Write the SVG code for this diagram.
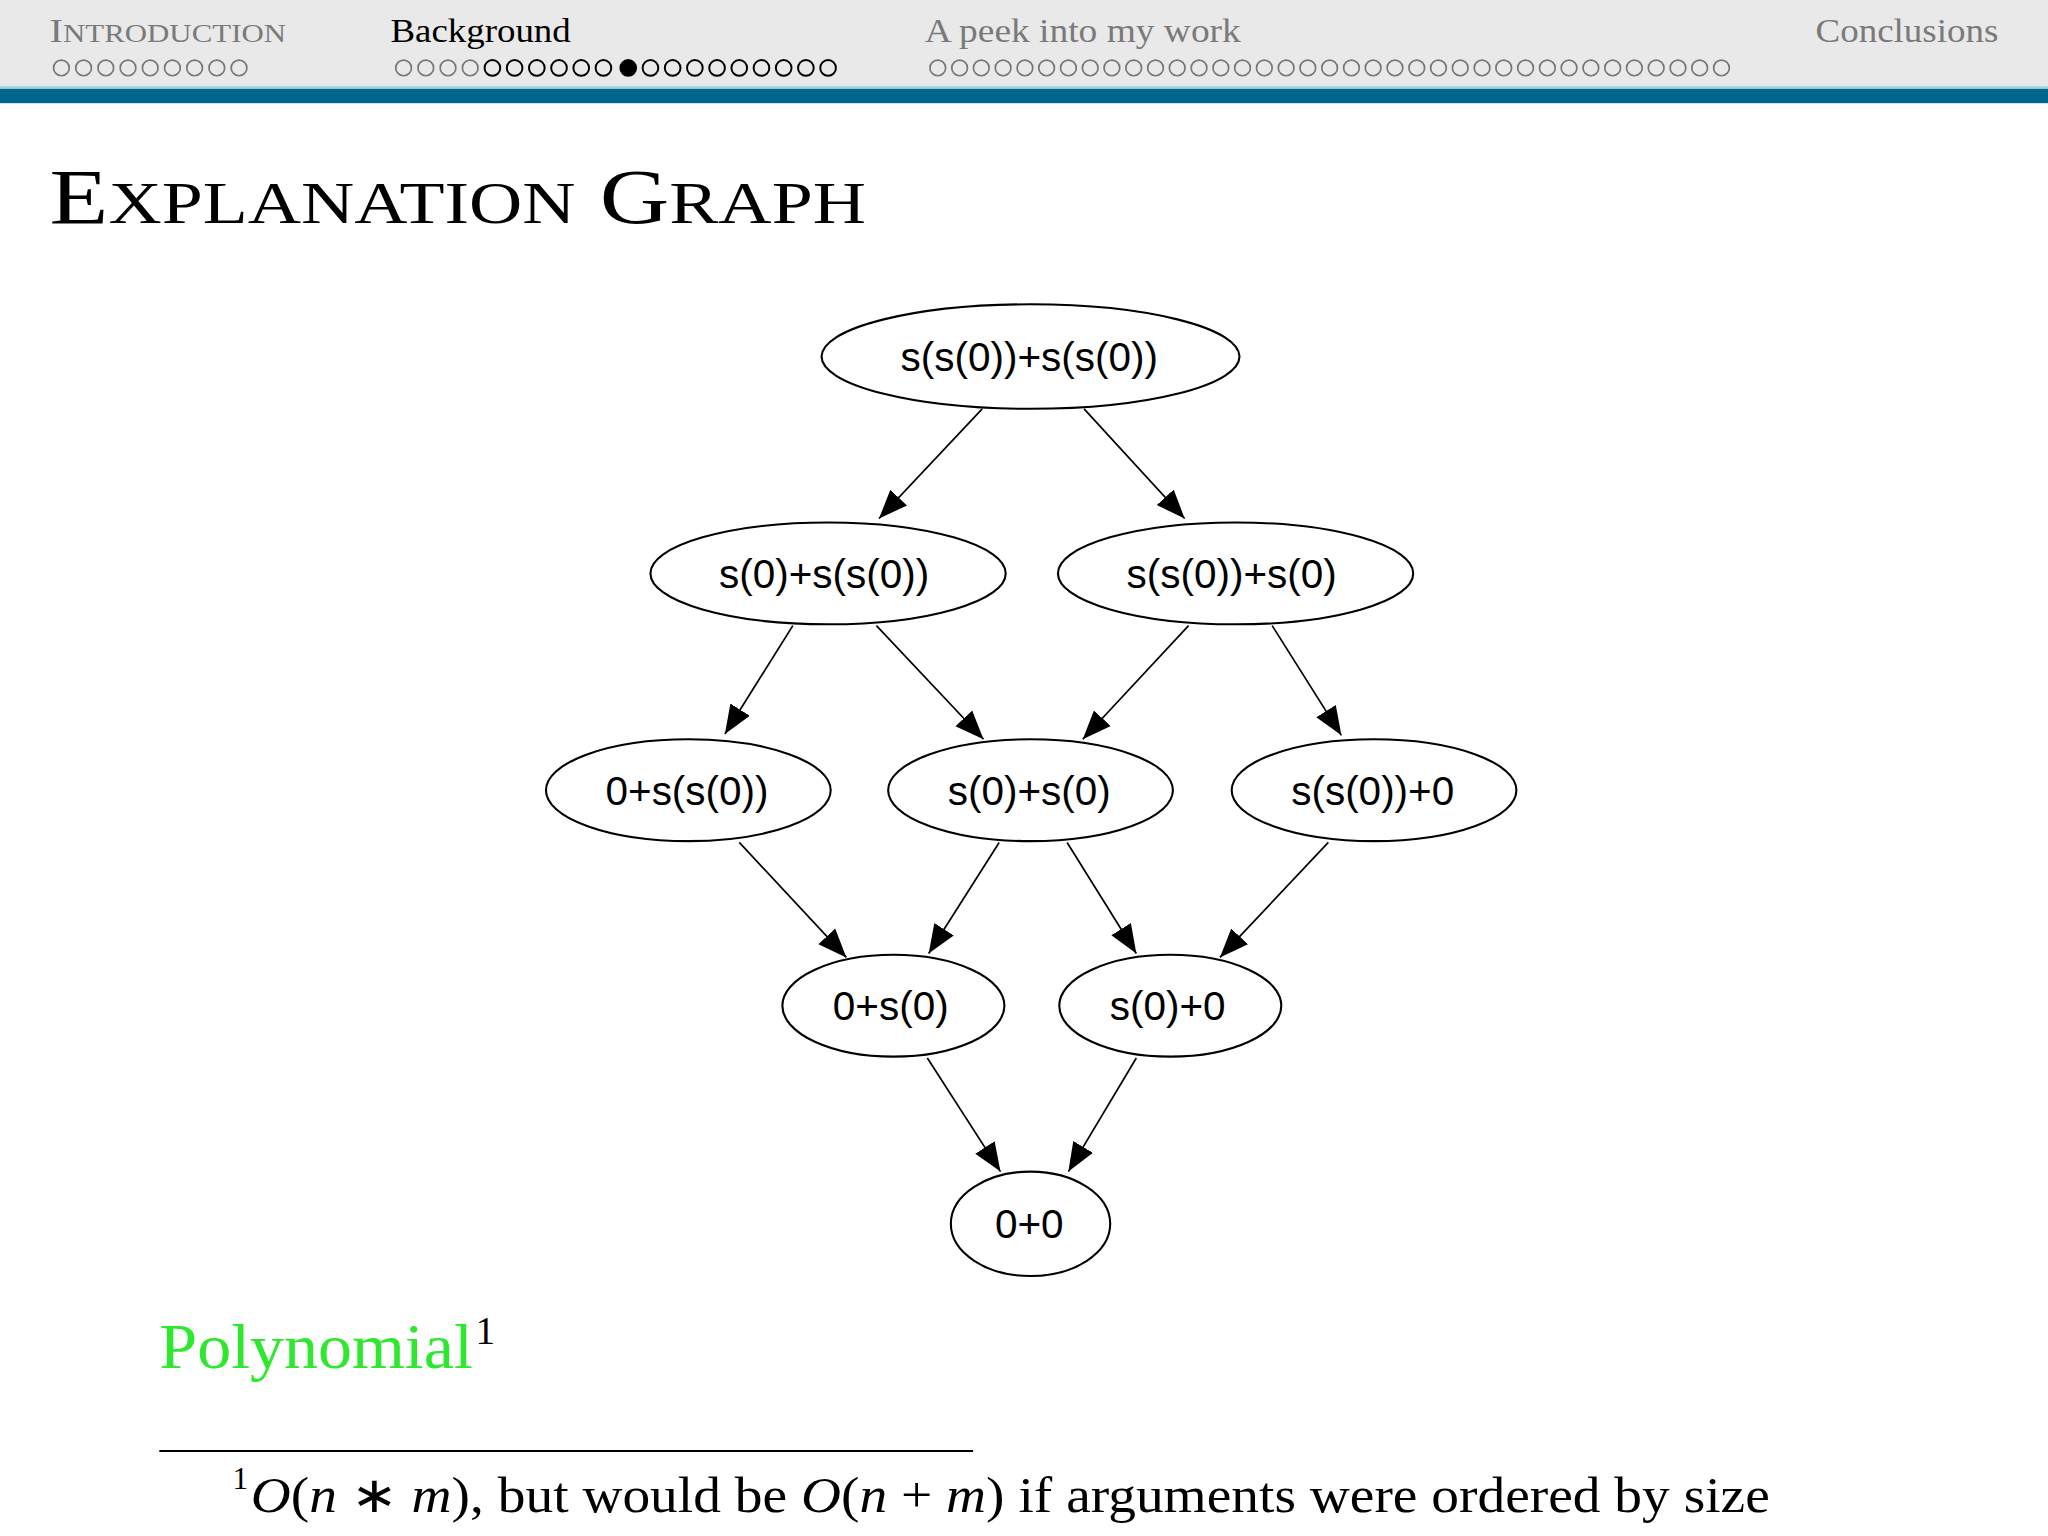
<svg xmlns="http://www.w3.org/2000/svg" width="2048" height="1536" viewBox="0 0 2048 1536">
<defs>
<marker id="ah2" viewBox="0 0 10 10" refX="10" refY="5" markerWidth="22" markerHeight="22" markerUnits="userSpaceOnUse" orient="auto"><path d="M0,1L10,5L0,9z" fill="#000"/></marker>
<style>
.nav{font-family:"Liberation Serif",serif;font-size:26px;fill:#7a7a7a}
.nd ellipse{fill:#fff;stroke:#000;stroke-width:1.6}
.nd text{font-family:"Liberation Sans",Arial,sans-serif;font-size:31px;text-anchor:middle;fill:#000}
.e line{stroke:#000;stroke-width:1.3;marker-end:url(#ah2)}
.ser{font-family:"Liberation Serif",serif}
.g1 circle{fill:none;stroke:#777;stroke-width:1.3}
</style>
</defs>
<rect width="2048" height="1536" fill="#fff"/>
<g transform="scale(1.30612)">
<g id="header">
<rect x="0" y="0" width="1568" height="67" fill="#e9e9e9"/>
<rect x="0" y="66" width="1568" height="2" fill="#9fd3e0"/>
<rect x="0" y="68" width="1568" height="11" fill="#00668c"/>
<text class="nav" x="38" y="32" textLength="181" lengthAdjust="spacingAndGlyphs">I<tspan font-size="20">NTRODUCTION</tspan></text>
<text class="nav" x="299" y="32" style="fill:#000" textLength="138" lengthAdjust="spacingAndGlyphs">Background</text>
<text class="nav" x="708" y="32" textLength="242" lengthAdjust="spacingAndGlyphs">A peek into my work</text>
<text class="nav" x="1390" y="32" textLength="140" lengthAdjust="spacingAndGlyphs">Conclusions</text>
<g class="g1">
<circle cx="47" cy="52" r="6"/><circle cx="64" cy="52" r="6"/><circle cx="81" cy="52" r="6"/><circle cx="98" cy="52" r="6"/><circle cx="115" cy="52" r="6"/><circle cx="132" cy="52" r="6"/><circle cx="149" cy="52" r="6"/><circle cx="166" cy="52" r="6"/><circle cx="183" cy="52" r="6"/>
<circle cx="309" cy="52" r="6"/><circle cx="326" cy="52" r="6"/><circle cx="343" cy="52" r="6"/><circle cx="360" cy="52" r="6"/>
</g>
<g fill="none" stroke="#000" stroke-width="1.5">
<circle cx="377" cy="52" r="6"/><circle cx="394" cy="52" r="6"/><circle cx="411" cy="52" r="6"/><circle cx="428" cy="52" r="6"/><circle cx="445" cy="52" r="6"/><circle cx="462" cy="52" r="6"/>
<circle cx="481" cy="52" r="6" fill="#000"/>
<circle cx="498" cy="52" r="6"/><circle cx="515" cy="52" r="6"/><circle cx="532" cy="52" r="6"/><circle cx="549" cy="52" r="6"/><circle cx="566" cy="52" r="6"/><circle cx="583" cy="52" r="6"/><circle cx="600" cy="52" r="6"/><circle cx="617" cy="52" r="6"/><circle cx="634" cy="52" r="6"/>
</g>
<g class="g1">
<circle cx="718" cy="52" r="6"/><circle cx="734.7" cy="52" r="6"/><circle cx="751.3" cy="52" r="6"/><circle cx="768" cy="52" r="6"/><circle cx="784.7" cy="52" r="6"/><circle cx="801.3" cy="52" r="6"/><circle cx="818" cy="52" r="6"/><circle cx="834.7" cy="52" r="6"/><circle cx="851.3" cy="52" r="6"/><circle cx="868" cy="52" r="6"/><circle cx="884.7" cy="52" r="6"/><circle cx="901.3" cy="52" r="6"/><circle cx="918" cy="52" r="6"/><circle cx="934.7" cy="52" r="6"/><circle cx="951.3" cy="52" r="6"/><circle cx="968" cy="52" r="6"/><circle cx="984.7" cy="52" r="6"/><circle cx="1001.3" cy="52" r="6"/><circle cx="1018" cy="52" r="6"/><circle cx="1034.7" cy="52" r="6"/><circle cx="1051.3" cy="52" r="6"/><circle cx="1068" cy="52" r="6"/><circle cx="1084.7" cy="52" r="6"/><circle cx="1101.3" cy="52" r="6"/><circle cx="1118" cy="52" r="6"/><circle cx="1134.7" cy="52" r="6"/><circle cx="1151.3" cy="52" r="6"/><circle cx="1168" cy="52" r="6"/><circle cx="1184.7" cy="52" r="6"/><circle cx="1201.3" cy="52" r="6"/><circle cx="1218" cy="52" r="6"/><circle cx="1234.7" cy="52" r="6"/><circle cx="1251.3" cy="52" r="6"/><circle cx="1268" cy="52" r="6"/><circle cx="1284.7" cy="52" r="6"/><circle cx="1301.3" cy="52" r="6"/><circle cx="1318" cy="52" r="6"/>
</g>
</g>
<text class="ser" x="38" y="171" font-size="60" fill="#000" textLength="625" lengthAdjust="spacingAndGlyphs">E<tspan font-size="46">XPLANATION</tspan> G<tspan font-size="46">RAPH</tspan></text>
<g class="e" id="connectors">
<line x1="752" y1="313" x2="673" y2="397"/>
<line x1="830" y1="313" x2="907" y2="397"/>
<line x1="607" y1="479" x2="555" y2="562"/>
<line x1="671" y1="479" x2="753" y2="566"/>
<line x1="910" y1="479" x2="829" y2="566"/>
<line x1="974" y1="479" x2="1027" y2="563"/>
<line x1="566" y1="645" x2="648" y2="733"/>
<line x1="765" y1="645" x2="711" y2="730"/>
<line x1="817" y1="645" x2="870" y2="730"/>
<line x1="1017" y1="645" x2="934" y2="733"/>
<line x1="710" y1="810" x2="766" y2="897"/>
<line x1="870" y1="810" x2="818" y2="897"/>
</g>
<g class="nd" id="n1"><ellipse cx="789" cy="273" rx="160" ry="40"/><text x="788" y="284">s(s(0))+s(s(0))</text></g>
<g class="nd" id="n2"><ellipse cx="634" cy="439" rx="136" ry="39"/><text x="631" y="450">s(0)+s(s(0))</text></g>
<g class="nd" id="n3"><ellipse cx="946" cy="439" rx="136" ry="39"/><text x="943" y="450">s(s(0))+s(0)</text></g>
<g class="nd" id="n4"><ellipse cx="527" cy="605" rx="109" ry="39"/><text x="526" y="616">0+s(s(0))</text></g>
<g class="nd" id="n5"><ellipse cx="789" cy="605" rx="109" ry="39"/><text x="788" y="616">s(0)+s(0)</text></g>
<g class="nd" id="n6"><ellipse cx="1052" cy="605" rx="109" ry="39"/><text x="1051" y="616">s(s(0))+0</text></g>
<g class="nd" id="n7"><ellipse cx="684" cy="770" rx="85" ry="39"/><text x="682" y="781">0+s(0)</text></g>
<g class="nd" id="n8"><ellipse cx="896" cy="770" rx="85" ry="39"/><text x="894" y="781">s(0)+0</text></g>
<g class="nd" id="n9"><ellipse cx="789" cy="937" rx="61" ry="40"/><text x="788" y="948">0+0</text></g>
<text class="ser" x="122" y="1047" font-size="48" fill="#2ee82e" textLength="240" lengthAdjust="spacingAndGlyphs">Polynomial</text>
<text class="ser" x="364" y="1029" font-size="30" fill="#000">1</text>
<line x1="122" y1="1111" x2="745" y2="1111" stroke="#000" stroke-width="1.5"/>
<text class="ser" x="178" y="1140" font-size="24" fill="#000">1</text>
<text class="ser" x="192" y="1158" font-size="38" fill="#000" textLength="1163" lengthAdjust="spacingAndGlyphs"><tspan font-style="italic">O</tspan>(<tspan font-style="italic">n</tspan> ∗ <tspan font-style="italic">m</tspan>), but would be <tspan font-style="italic">O</tspan>(<tspan font-style="italic">n</tspan> + <tspan font-style="italic">m</tspan>) if arguments were ordered by size</text>
</g>
</svg>
